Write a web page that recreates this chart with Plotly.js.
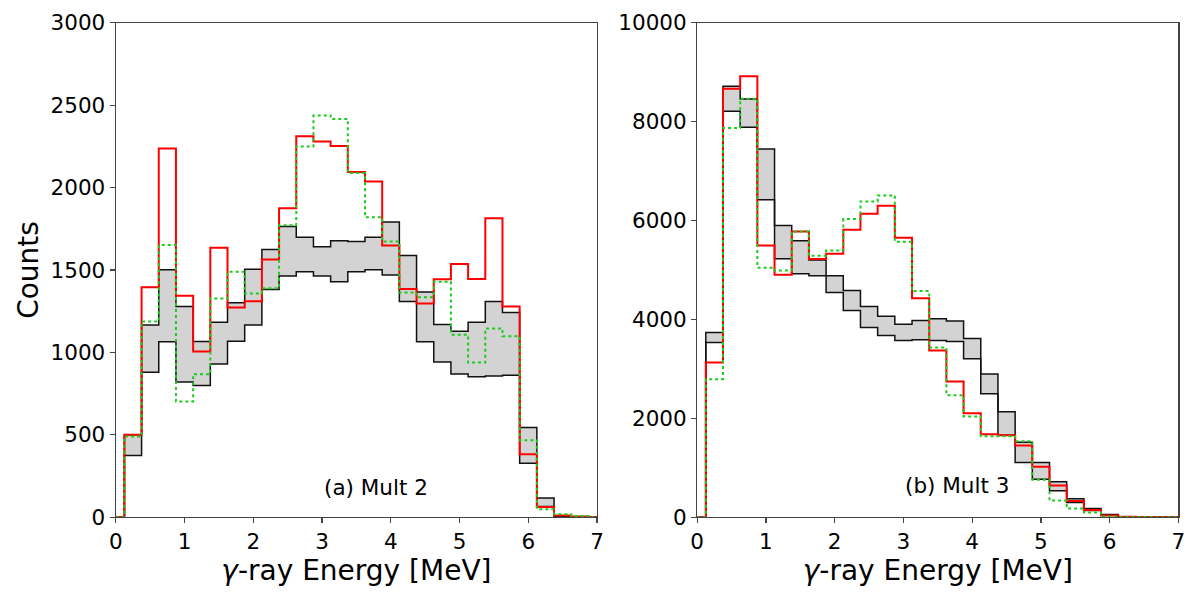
<!DOCTYPE html>
<html>
<head>
<meta charset="utf-8">
<script src="https://cdn.plot.ly/plotly-3.0.1.min.js"></script>
<style>
  html, body { margin: 0; padding: 0; background: #fff; }
  #chart { width: 1200px; height: 600px; }
</style>
</head>
<body>
<div id="chart"></div>
<script>
// bins: 0.25 MeV wide, first edge at 0.125 MeV
const binStart = 0.125;
const binWidth = 0.25;

// (a) Mult 2
const multTwoUpper = [500, 1167, 1501, 1279, 1066, 1183, 1301, 1505, 1624, 1764, 1699, 1641, 1678, 1673, 1699, 1792, 1588, 1367, 1169, 1129, 1183, 1309, 1242, 544, 117, 8, 2];
const multTwoLower = [374, 880, 1064, 821, 799, 929, 1068, 1167, 1382, 1463, 1489, 1463, 1429, 1489, 1501, 1469, 1309, 1064, 942, 869, 853, 857, 861, 327, 65, 5, 1];
const multTwoRed   = [500, 1396, 2237, 1343, 1005, 1635, 1272, 1311, 1564, 1875, 2312, 2280, 2252, 2095, 2037, 1648, 1385, 1296, 1444, 1537, 1446, 1814, 1278, 382, 62, 10, 4];
const multTwoGreen = [490, 1187, 1651, 702, 868, 1327, 1489, 1357, 1390, 1772, 2250, 2438, 2417, 2089, 1820, 1673, 1363, 1335, 1428, 1107, 939, 1145, 1098, 467, 48, 18, 8];

// (b) Mult 3
const multThreeUpper = [3737, 8715, 8458, 7446, 5902, 5592, 5200, 4883, 4587, 4263, 4067, 3905, 3980, 4013, 3966, 3615, 2894, 2131, 1518, 1106, 715, 371, 175, 54, 10, 4, 2];
const multThreeLower = [3534, 8209, 7885, 6421, 5227, 4924, 4883, 4546, 4182, 3838, 3676, 3575, 3588, 3575, 3555, 3204, 2496, 1659, 1106, 769, 533, 297, 135, 40, 6, 2, 1];
const multThreeRed   = [3130, 8667, 8917, 5497, 4904, 5780, 5221, 5329, 5814, 6138, 6300, 5652, 4428, 3372, 2745, 2104, 1680, 1659, 1450, 1018, 641, 330, 148, 34, 8, 3, 1];
const multThreeGreen = [2792, 7871, 8465, 5045, 4991, 5780, 5288, 5396, 6030, 6387, 6509, 5571, 4573, 3433, 2469, 2037, 1639, 1639, 1538, 755, 337, 175, 94, 13, 5, 2, 1];

const xMax = 7;

// step outline: starts on the baseline at 0, ends on the baseline at xMax
function stepX(vals) {
  const x = [0];
  for (let i = 0; i <= vals.length; i++) x.push(binStart + i * binWidth);
  x.push(xMax);
  return x;
}
function stepY(vals) {
  return [0].concat(vals, [0, 0]);
}

const BLACK = "#111111";
const RED = "#ff0000";
const GREEN = "#1ccc1c";
const GRAY = "#d3d3d3";

function panel(lower, upper, red, green, xa, ya) {
  return [
    {x: stepX(lower), y: stepY(lower), xaxis: xa, yaxis: ya, mode: "lines",
     line: {shape: "hv", color: BLACK, width: 1.5}, hoverinfo: "skip"},
    {x: stepX(upper), y: stepY(upper), xaxis: xa, yaxis: ya, mode: "lines",
     fill: "tonexty", fillcolor: GRAY,
     line: {shape: "hv", color: BLACK, width: 1.5}, hoverinfo: "skip"},
    {x: stepX(red), y: stepY(red), xaxis: xa, yaxis: ya, mode: "lines",
     line: {shape: "hv", color: RED, width: 2}, hoverinfo: "skip"},
    {x: stepX(green), y: stepY(green), xaxis: xa, yaxis: ya, mode: "lines",
     line: {shape: "hv", color: GREEN, width: 2, dash: "3px,3px"}, hoverinfo: "skip"}
  ];
}

const data = [].concat(
  panel(multTwoLower, multTwoUpper, multTwoRed, multTwoGreen, "x", "y"),
  panel(multThreeLower, multThreeUpper, multThreeRed, multThreeGreen, "x2", "y2")
);

const FONT = "DejaVu Sans, sans-serif";
const AX = "#444444";
const TICK_SIZE = 21.5;

function xAxis(domain, anchor) {
  return {
    domain: domain, anchor: anchor, range: [0, xMax],
    tickvals: [0, 1, 2, 3, 4, 5, 6, 7],
    ticks: "outside", ticklen: 5, tickwidth: 1.2, tickcolor: AX,
    showline: true, linecolor: AX, linewidth: 1.2, mirror: true,
    showgrid: false, zeroline: false,
    tickfont: {family: FONT, size: TICK_SIZE, color: "#000"},
    title: {text: "<i>γ</i>-ray Energy [MeV]", font: {family: FONT, size: 28, color: "#000"}, standoff: 4}
  };
}
function yAxis(domain, anchor, top, step) {
  return {
    domain: domain, anchor: anchor, range: [0, top], dtick: step, tick0: 0,
    tickformat: "d",
    ticks: "outside", ticklen: 5, tickwidth: 1.2, tickcolor: AX,
    showline: true, linecolor: AX, linewidth: 1.2, mirror: true,
    showgrid: false, zeroline: false,
    tickfont: {family: FONT, size: TICK_SIZE, color: "#000"}
  };
}

const yDom = [0.138, 0.962];
const layout = {
  width: 1200, height: 600,
  margin: {l: 0, r: 0, t: 0, b: 0},
  paper_bgcolor: "#fff", plot_bgcolor: "#fff",
  showlegend: false,
  xaxis: xAxis([0.0965, 0.4975], "y"),
  yaxis: Object.assign(yAxis(yDom, "x", 3000, 500),
    {title: {text: "Counts", font: {family: FONT, size: 28, color: "#000"}, standoff: 3}}),
  xaxis2: xAxis([0.581, 0.982], "y2"),
  yaxis2: yAxis(yDom, "x2", 10000, 2000),
  annotations: [
    {xref: "x", yref: "y", x: 3.78, y: 180, text: "(a) Mult 2", showarrow: false,
     font: {family: FONT, size: TICK_SIZE, color: "#000"}},
    {xref: "x2", yref: "y2", x: 3.78, y: 650, text: "(b) Mult 3", showarrow: false,
     font: {family: FONT, size: TICK_SIZE, color: "#000"}}
  ]
};

Plotly.newPlot("chart", data, layout, {staticPlot: true});
</script>
</body>
</html>
